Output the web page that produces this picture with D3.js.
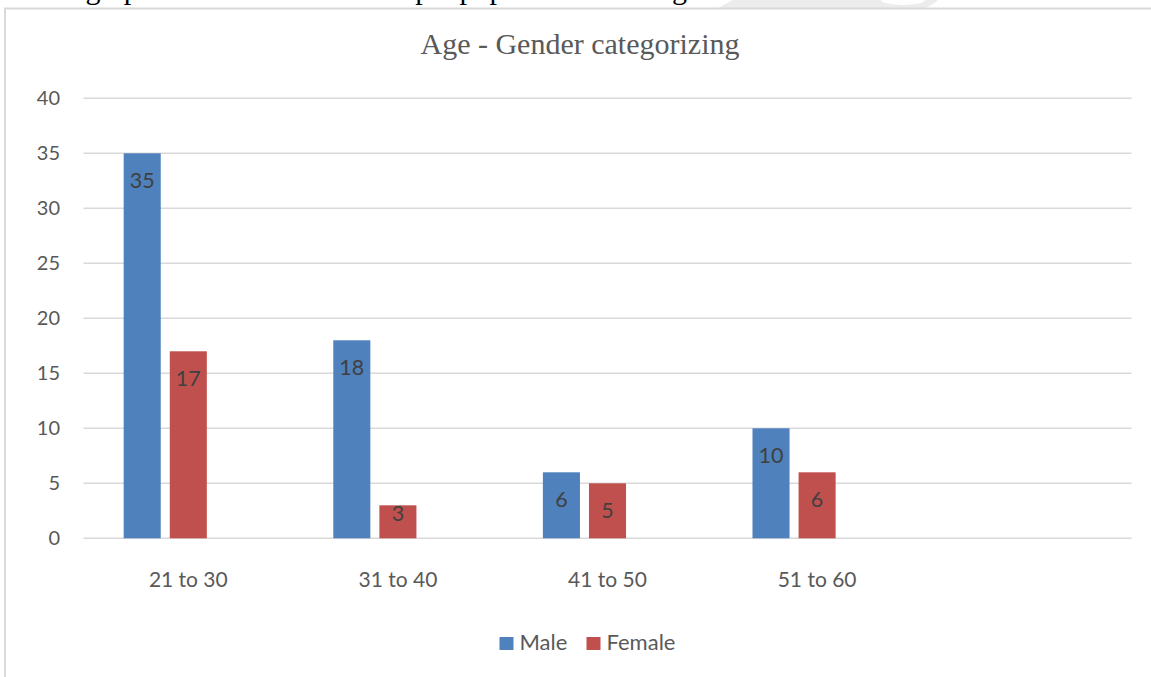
<!DOCTYPE html>
<html>
<head>
<meta charset="utf-8">
<script src="https://cdn.jsdelivr.net/npm/d3@7"></script>
<style>
  html, body { margin: 0; padding: 0; background: #fff; overflow: hidden; }
  svg { display: block; }
</style>
</head>
<body>
<svg id="chart" width="1151" height="677"></svg>
<script>
// Age groups (a fifth, empty slot keeps the category spacing of the sheet)
const categories = ["21 to 30", "31 to 40", "41 to 50", "51 to 60", ""];
const seriesNames = ["Male", "Female"];
const maleValues = [35, 18, 6, 10];
const femaleValues = [17, 3, 5, 6];
const yTicks = [0, 5, 10, 15, 20, 25, 30, 35, 40];
const seriesColors = ["#4f81bd", "#c0504d"];

const W = 1151, H = 677;
const svg = d3.select("#chart");
const sans = "Lato, Carlito, Calibri, sans-serif";
const serif = "Liberation Serif, Times New Roman, serif";

// faint logo mark behind the page text
svg.append("path")
  .attr("d", "M716,9 L733,0 L938,0 Q932,6 922,9 Z")
  .attr("fill", "#ececec");
svg.append("ellipse")
  .attr("cx", 903).attr("cy", 0).attr("rx", 22).attr("ry", 5)
  .attr("fill", "#fff");

// page text sitting just above the chart object
svg.append("text")
  .attr("x", -2).attr("y", -1)
  .attr("font-family", serif)
  .attr("font-size", 30)
  .attr("fill", "#000")
  .text("e demographical details of the sample population are as given below:");

// chart frame
svg.append("rect")
  .attr("x", 5).attr("y", 8.5)
  .attr("width", W + 20).attr("height", H + 20)
  .attr("fill", "#fff")
  .attr("stroke", "#d9d9d9").attr("stroke-width", 2);

const plot = { left: 83.5, right: 1131.5, top: 98.3, bottom: 538.3 };

const x0 = d3.scaleBand()
  .domain(categories.map((c, i) => i))
  .range([plot.left, plot.right])
  .paddingInner(0).paddingOuter(0);

// three slots per group; the third stays empty
const x1 = d3.scaleBand()
  .domain([0, 1, 2])
  .range([0, x0.bandwidth()])
  .paddingInner(0.196)
  .paddingOuter(0.872);

const y = d3.scaleLinear().domain([0, 40]).range([plot.bottom, plot.top]);

// gridlines
svg.append("g")
  .selectAll("line")
  .data(yTicks)
  .join("line")
  .attr("x1", plot.left).attr("x2", plot.right)
  .attr("y1", d => y(d)).attr("y2", d => y(d))
  .attr("stroke", "#d9d9d9").attr("stroke-width", 1.5);

// y axis labels
const yAxis = d3.axisLeft(y).tickValues(yTicks).tickSize(0).tickPadding(0);
const gy = svg.append("g").attr("transform", "translate(60,0)").call(yAxis);
gy.select(".domain").remove();
gy.selectAll("text")
  .attr("font-family", sans)
  .attr("font-size", 20)
  .attr("fill", "#595959");

// x axis labels
const xAxis = d3.axisBottom(x0).tickFormat(i => categories[i]).tickSize(0).tickPadding(0);
const gx = svg.append("g").attr("transform", `translate(0,${plot.bottom})`).call(xAxis);
gx.select(".domain").remove();
gx.selectAll("text")
  .attr("dy", null)
  .attr("y", 48.5)
  .attr("font-family", sans)
  .attr("font-size", 21)
  .attr("fill", "#595959");

// bars
const rows = [];
maleValues.forEach((v, i) => rows.push({ cat: i, s: 0, v }));
femaleValues.forEach((v, i) => rows.push({ cat: i, s: 1, v }));

const bars = svg.append("g");
bars.selectAll("rect")
  .data(rows)
  .join("rect")
  .attr("x", d => x0(d.cat) + x1(d.s))
  .attr("y", d => y(d.v))
  .attr("width", x1.bandwidth())
  .attr("height", d => y(0) - y(d.v))
  .attr("fill", d => seriesColors[d.s]);

// value labels inside the bar ends
bars.selectAll("text")
  .data(rows)
  .join("text")
  .attr("x", d => x0(d.cat) + x1(d.s) + x1.bandwidth() / 2)
  .attr("y", d => Math.min(y(d.v) + 35, y(0) - 17.5))
  .attr("text-anchor", "middle")
  .attr("font-family", sans)
  .attr("font-size", 21.5)
  .attr("fill", "#404040")
  .text(d => d.v);

// title
svg.append("text")
  .attr("x", 580).attr("y", 54)
  .attr("text-anchor", "middle")
  .attr("font-family", serif)
  .attr("font-size", 30)
  .attr("fill", "#595959")
  .text("Age - Gender categorizing");

// legend
const legendX = [499.5, 586.5];
const legend = svg.append("g");
seriesNames.forEach((name, i) => {
  legend.append("rect")
    .attr("x", legendX[i]).attr("y", 637)
    .attr("width", 14).attr("height", 13)
    .attr("fill", seriesColors[i]);
  legend.append("text")
    .attr("x", legendX[i] + 20).attr("y", 650)
    .attr("font-family", sans)
    .attr("font-size", 22)
    .attr("fill", "#595959")
    .text(name);
});
</script>
</body>
</html>
